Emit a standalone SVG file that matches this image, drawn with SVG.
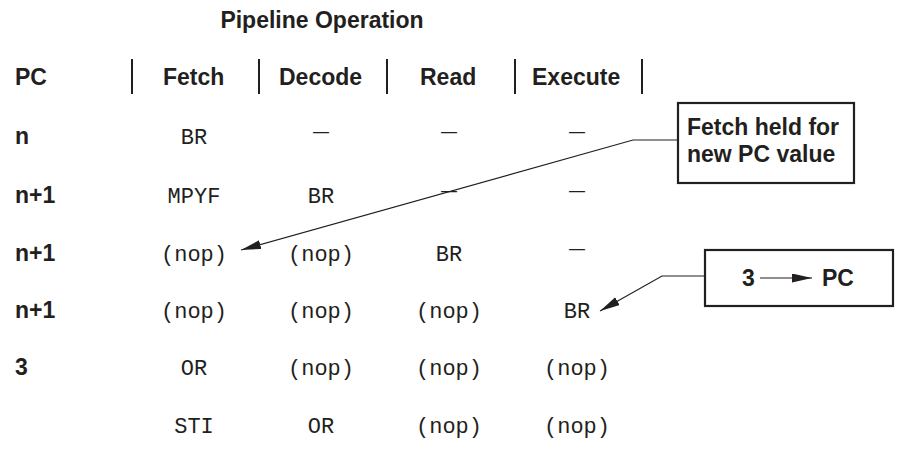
<svg xmlns="http://www.w3.org/2000/svg" width="897" height="452" viewBox="0 0 897 452">
<defs>
<style>
.b{font-family:"Liberation Sans",Arial,sans-serif;font-weight:bold;font-size:23px;fill:#231f20}
.m{font-family:"Liberation Mono","Courier New",monospace;font-size:22px;fill:#231f20;text-anchor:middle}
.d{font-family:"Liberation Sans",Arial,sans-serif;font-size:16px;fill:#231f20;text-anchor:middle}
.bar{stroke:#231f20;stroke-width:2}
.box{fill:#fff;stroke:#231f20;stroke-width:2.2}
.ld{fill:none;stroke:#231f20;stroke-width:1.2}
</style>
<marker id="ah" markerUnits="userSpaceOnUse" markerWidth="22" markerHeight="10" refX="20" refY="4.5" orient="auto">
<path d="M0,0 L20,4.5 L0,9 z" fill="#231f20"/>
</marker>
</defs>
<rect width="897" height="452" fill="#fff"/>
<g id="title"><text class="b" x="322" y="28" text-anchor="middle">Pipeline Operation</text></g>
<g id="header">
<text class="b" x="15" y="85">PC</text>
<text class="b" x="163" y="85">Fetch</text>
<text class="b" x="279" y="85">Decode</text>
<text class="b" x="420" y="85">Read</text>
<text class="b" x="532" y="85">Execute</text>
<line class="bar" x1="132" y1="59" x2="132" y2="94"/>
<line class="bar" x1="259" y1="59" x2="259" y2="94"/>
<line class="bar" x1="387" y1="59" x2="387" y2="94"/>
<line class="bar" x1="515" y1="59" x2="515" y2="94"/>
<line class="bar" x1="642" y1="59" x2="642" y2="94"/>
</g>
<g id="row1">
<text class="b" x="15" y="144">n</text>
<text class="m" x="194" y="144">BR</text>
<text class="d" x="321" y="137">—</text>
<text class="d" x="449" y="137">—</text>
<text class="d" x="577" y="137">—</text>
</g>
<g id="row2">
<text class="b" x="15" y="203">n+1</text>
<text class="m" x="194" y="203">MPYF</text>
<text class="m" x="321" y="203">BR</text>
<text class="d" x="449" y="196">—</text>
<text class="d" x="577" y="196">—</text>
</g>
<g id="row3">
<text class="b" x="15" y="261">n+1</text>
<text class="m" x="194" y="261">(nop)</text>
<text class="m" x="321" y="261">(nop)</text>
<text class="m" x="449" y="261">BR</text>
<text class="d" x="577" y="254">—</text>
</g>
<g id="row4">
<text class="b" x="15" y="318">n+1</text>
<text class="m" x="194" y="318">(nop)</text>
<text class="m" x="321" y="318">(nop)</text>
<text class="m" x="449" y="318">(nop)</text>
<text class="m" x="577" y="318">BR</text>
</g>
<g id="row5">
<text class="b" x="15" y="375">3</text>
<text class="m" x="194" y="375">OR</text>
<text class="m" x="321" y="375">(nop)</text>
<text class="m" x="449" y="375">(nop)</text>
<text class="m" x="577" y="375">(nop)</text>
</g>
<g id="row6">
<text class="m" x="194" y="433">STI</text>
<text class="m" x="321" y="433">OR</text>
<text class="m" x="449" y="433">(nop)</text>
<text class="m" x="577" y="433">(nop)</text>
</g>
<g id="connectors">
<polyline class="ld" points="678,140 633,140 241,250" marker-end="url(#ah)"/>
<polyline class="ld" points="705,276 662,276 600,311" marker-end="url(#ah)"/>
</g>
<g id="note-fetch">
<rect class="box" x="678" y="103" width="176" height="80"/>
<text class="b" x="687" y="135">Fetch held for</text>
<text class="b" x="687" y="162">new PC value</text>
</g>
<g id="note-pc">
<rect class="box" x="705" y="250" width="188" height="56"/>
<text class="b" x="742" y="286">3</text>
<line class="ld" x1="760" y1="278" x2="812" y2="278" marker-end="url(#ah)"/>
<text class="b" x="822" y="286">PC</text>
</g>
</svg>
